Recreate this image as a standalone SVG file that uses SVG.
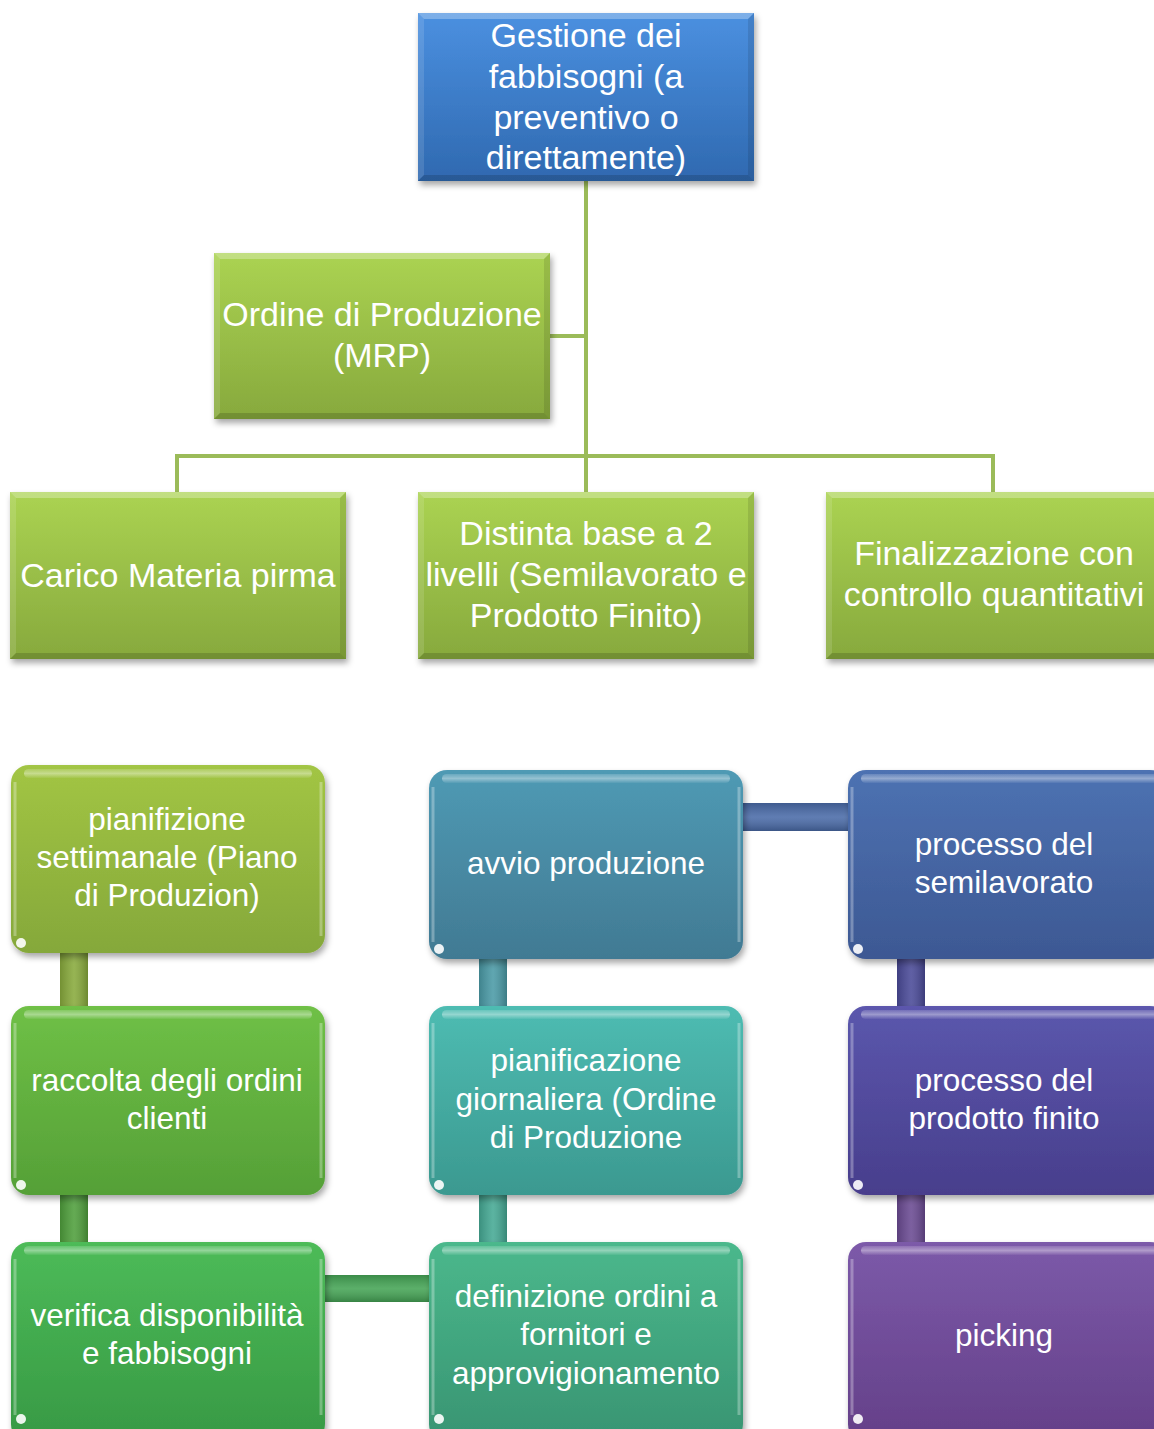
<svg xmlns="http://www.w3.org/2000/svg" width="1154" height="1429" viewBox="0 0 1154 1429">
<defs>
<filter id="sh" x="-10%" y="-10%" width="120%" height="125%"><feDropShadow dx="2" dy="4" stdDeviation="3" flood-color="#000" flood-opacity="0.35"/></filter>
<linearGradient id="gBlue" x1="0" y1="0" x2="0" y2="1"><stop offset="0" stop-color="#4b90e0"/><stop offset="1" stop-color="#2f69b0"/></linearGradient>
<linearGradient id="gLime" x1="0" y1="0" x2="0" y2="1"><stop offset="0" stop-color="#abd352"/><stop offset="1" stop-color="#87a93d"/></linearGradient>
<linearGradient id="c1" x1="0" y1="0" x2="0" y2="1"><stop offset="0" stop-color="#a2c544"/><stop offset="1" stop-color="#85a83a"/></linearGradient>
<linearGradient id="c2" x1="0" y1="0" x2="0" y2="1"><stop offset="0" stop-color="#6fc046"/><stop offset="1" stop-color="#55a037"/></linearGradient>
<linearGradient id="c3" x1="0" y1="0" x2="0" y2="1"><stop offset="0" stop-color="#4dbb58"/><stop offset="1" stop-color="#379944"/></linearGradient>
<linearGradient id="c4" x1="0" y1="0" x2="0" y2="1"><stop offset="0" stop-color="#4bb88c"/><stop offset="1" stop-color="#389472"/></linearGradient>
<linearGradient id="c5" x1="0" y1="0" x2="0" y2="1"><stop offset="0" stop-color="#4ebcb2"/><stop offset="1" stop-color="#3b9990"/></linearGradient>
<linearGradient id="c6" x1="0" y1="0" x2="0" y2="1"><stop offset="0" stop-color="#4f9ab4"/><stop offset="1" stop-color="#417a93"/></linearGradient>
<linearGradient id="c7" x1="0" y1="0" x2="0" y2="1"><stop offset="0" stop-color="#4d72b2"/><stop offset="1" stop-color="#3d5893"/></linearGradient>
<linearGradient id="c8" x1="0" y1="0" x2="0" y2="1"><stop offset="0" stop-color="#5b57ad"/><stop offset="1" stop-color="#483e8c"/></linearGradient>
<linearGradient id="c9" x1="0" y1="0" x2="0" y2="1"><stop offset="0" stop-color="#7c5aa9"/><stop offset="1" stop-color="#643f88"/></linearGradient>
<linearGradient id="barV" x1="0" y1="0" x2="1" y2="0"><stop offset="0" stop-color="#000" stop-opacity="0.15"/><stop offset="0.5" stop-color="#fff" stop-opacity="0.12"/><stop offset="1" stop-color="#000" stop-opacity="0.2"/></linearGradient>
<linearGradient id="barH" x1="0" y1="0" x2="0" y2="1"><stop offset="0" stop-color="#000" stop-opacity="0.15"/><stop offset="0.5" stop-color="#fff" stop-opacity="0.12"/><stop offset="1" stop-color="#000" stop-opacity="0.2"/></linearGradient>
<linearGradient id="hlg" x1="0" y1="0" x2="0" y2="1"><stop offset="0" stop-color="#fff" stop-opacity="0.15"/><stop offset="0.5" stop-color="#fff" stop-opacity="0.4"/><stop offset="1" stop-color="#fff" stop-opacity="0.05"/></linearGradient>
</defs>
<style>
text{font-family:"Liberation Sans",Arial,sans-serif;fill:#fff;text-anchor:middle}
.t1{font-size:34px}
.t2{font-size:31.5px}
.ln{stroke:#9bbb59;stroke-width:4;fill:none}
.bt{fill:#fff;fill-opacity:0.28}
.bl{fill:#fff;fill-opacity:0.12}
.br{fill:#000;fill-opacity:0.1}
.bb{fill:#000;fill-opacity:0.15}
.hl{fill:url(#hlg)}
.he{stroke:#fff;stroke-opacity:0.3;stroke-width:3;fill:none}
.dot{fill:#fff;fill-opacity:0.9}
</style>

<g id="connectors">
<path class="ln" d="M586 181V492M550 336H586M177 492V456H993V492"/>
<rect x="60" y="950" width="28" height="58" fill="#88aa3c"/><rect x="60" y="950" width="28" height="58" fill="url(#barV)"/>
<rect x="60" y="1193" width="28" height="51" fill="#4f9f3c"/><rect x="60" y="1193" width="28" height="51" fill="url(#barV)"/>
<rect x="323" y="1275" width="108" height="27" fill="#45a455"/><rect x="323" y="1275" width="108" height="27" fill="url(#barH)"/>
<rect x="479" y="957" width="28" height="51" fill="#4a9aa6"/><rect x="479" y="957" width="28" height="51" fill="url(#barV)"/>
<rect x="479" y="1193" width="28" height="51" fill="#45a994"/><rect x="479" y="1193" width="28" height="51" fill="url(#barV)"/>
<rect x="741" y="803" width="109" height="28" fill="#4a6ba8"/><rect x="741" y="803" width="109" height="28" fill="url(#barH)"/>
<rect x="897" y="957" width="28" height="51" fill="#4a4a98"/><rect x="897" y="957" width="28" height="51" fill="url(#barV)"/>
<rect x="897" y="1193" width="28" height="51" fill="#6a4a92"/><rect x="897" y="1193" width="28" height="51" fill="url(#barV)"/>
</g>

<g id="n-gestione">
<rect x="418" y="13" width="336" height="168" fill="url(#gBlue)" filter="url(#sh)"/>
<polygon class="bt" points="418,13 754,13 748,19 424,19"/><polygon class="bl" points="418,13 424,19 424,175 418,181"/><polygon class="br" points="754,13 754,181 748,175 748,19"/><polygon class="bb" points="418,181 754,181 748,175 424,175"/>
<text class="t1" x="586" y="47">Gestione dei</text><text class="t1" x="586" y="88">fabbisogni (a</text><text class="t1" x="586" y="129">preventivo o</text><text class="t1" x="586" y="169">direttamente)</text>
</g>

<g id="n-ordine">
<rect x="214" y="253" width="336" height="166" fill="url(#gLime)" filter="url(#sh)"/>
<polygon class="bt" points="214,253 550,253 544,259 220,259"/><polygon class="bl" points="214,253 220,259 220,413 214,419"/><polygon class="br" points="550,253 550,419 544,413 544,259"/><polygon class="bb" points="214,419 550,419 544,413 220,413"/>
<text class="t1" x="382" y="326">Ordine di Produzione</text><text class="t1" x="382" y="367">(MRP)</text>
</g>

<g id="n-carico">
<rect x="10" y="492" width="336" height="167" fill="url(#gLime)" filter="url(#sh)"/>
<polygon class="bt" points="10,492 346,492 340,498 16,498"/><polygon class="bl" points="10,492 16,498 16,653 10,659"/><polygon class="br" points="346,492 346,659 340,653 340,498"/><polygon class="bb" points="10,659 346,659 340,653 16,653"/>
<text class="t1" x="178" y="587">Carico Materia pirma</text>
</g>

<g id="n-distinta">
<rect x="418" y="492" width="336" height="167" fill="url(#gLime)" filter="url(#sh)"/>
<polygon class="bt" points="418,492 754,492 748,498 424,498"/><polygon class="bl" points="418,492 424,498 424,653 418,659"/><polygon class="br" points="754,492 754,659 748,653 748,498"/><polygon class="bb" points="418,659 754,659 748,653 424,653"/>
<text class="t1" x="586" y="545">Distinta base a 2</text><text class="t1" x="586" y="586">livelli (Semilavorato e</text><text class="t1" x="586" y="627">Prodotto Finito)</text>
</g>

<g id="n-finalizzazione">
<rect x="826" y="492" width="336" height="167" fill="url(#gLime)" filter="url(#sh)"/>
<polygon class="bt" points="826,492 1162,492 1156,498 832,498"/><polygon class="bl" points="826,492 832,498 832,653 826,659"/><polygon class="bb" points="826,659 1162,659 1156,653 832,653"/>
<text class="t1" x="994" y="565">Finalizzazione con</text><text class="t1" x="994" y="606">controllo quantitativi</text>
</g>

<g id="n-pianifizione">
<rect x="11" y="765" width="314" height="188" rx="18" fill="url(#c1)" filter="url(#sh)"/>
<rect class="hl" x="24" y="769" width="288" height="9" rx="4.5"/><path class="he" d="M321 782V936M15 782V936"/><circle class="dot" cx="21" cy="943" r="5"/>
<text class="t2" x="167" y="830">pianifizione</text><text class="t2" x="167" y="868">settimanale (Piano</text><text class="t2" x="167" y="906">di Produzion)</text>
</g>

<g id="n-raccolta">
<rect x="11" y="1006" width="314" height="189" rx="18" fill="url(#c2)" filter="url(#sh)"/>
<rect class="hl" x="24" y="1010" width="288" height="9" rx="4.5"/><path class="he" d="M321 1023V1178M15 1023V1178"/><circle class="dot" cx="21" cy="1185" r="5"/>
<text class="t2" x="167" y="1091">raccolta degli ordini</text><text class="t2" x="167" y="1129">clienti</text>
</g>

<g id="n-verifica">
<rect x="11" y="1242" width="314" height="200" rx="18" fill="url(#c3)" filter="url(#sh)"/>
<rect class="hl" x="24" y="1246" width="288" height="9" rx="4.5"/><path class="he" d="M321 1259V1415M15 1259V1415"/><circle class="dot" cx="21" cy="1419" r="5"/>
<text class="t2" x="167" y="1326">verifica disponibilità</text><text class="t2" x="167" y="1364">e fabbisogni</text>
</g>

<g id="n-avvio">
<rect x="429" y="770" width="314" height="189" rx="18" fill="url(#c6)" filter="url(#sh)"/>
<rect class="hl" x="442" y="774" width="288" height="9" rx="4.5"/><path class="he" d="M739 787V942M433 787V942"/><circle class="dot" cx="439" cy="949" r="5"/>
<text class="t2" x="586" y="874">avvio produzione</text>
</g>

<g id="n-pianificazione">
<rect x="429" y="1006" width="314" height="189" rx="18" fill="url(#c5)" filter="url(#sh)"/>
<rect class="hl" x="442" y="1010" width="288" height="9" rx="4.5"/><path class="he" d="M739 1023V1178M433 1023V1178"/><circle class="dot" cx="439" cy="1185" r="5"/>
<text class="t2" x="586" y="1071">pianificazione</text><text class="t2" x="586" y="1110">giornaliera (Ordine</text><text class="t2" x="586" y="1148">di Produzione</text>
</g>

<g id="n-definizione">
<rect x="429" y="1242" width="314" height="200" rx="18" fill="url(#c4)" filter="url(#sh)"/>
<rect class="hl" x="442" y="1246" width="288" height="9" rx="4.5"/><path class="he" d="M739 1259V1415M433 1259V1415"/><circle class="dot" cx="439" cy="1419" r="5"/>
<text class="t2" x="586" y="1307">definizione ordini a</text><text class="t2" x="586" y="1345">fornitori e</text><text class="t2" x="586" y="1384">approvigionamento</text>
</g>

<g id="n-semilavorato">
<rect x="848" y="770" width="320" height="189" rx="18" fill="url(#c7)" filter="url(#sh)"/>
<rect class="hl" x="861" y="774" width="300" height="9" rx="4.5"/><path class="he" d="M852 787V942"/><circle class="dot" cx="858" cy="949" r="5"/>
<text class="t2" x="1004" y="855">processo del</text><text class="t2" x="1004" y="893">semilavorato</text>
</g>

<g id="n-prodotto">
<rect x="848" y="1006" width="320" height="189" rx="18" fill="url(#c8)" filter="url(#sh)"/>
<rect class="hl" x="861" y="1010" width="300" height="9" rx="4.5"/><path class="he" d="M852 1023V1178"/><circle class="dot" cx="858" cy="1185" r="5"/>
<text class="t2" x="1004" y="1091">processo del</text><text class="t2" x="1004" y="1129">prodotto finito</text>
</g>

<g id="n-picking">
<rect x="848" y="1242" width="320" height="200" rx="18" fill="url(#c9)" filter="url(#sh)"/>
<rect class="hl" x="861" y="1246" width="300" height="9" rx="4.5"/><path class="he" d="M852 1259V1415"/><circle class="dot" cx="858" cy="1419" r="5"/>
<text class="t2" x="1004" y="1346">picking</text>
</g>
</svg>
